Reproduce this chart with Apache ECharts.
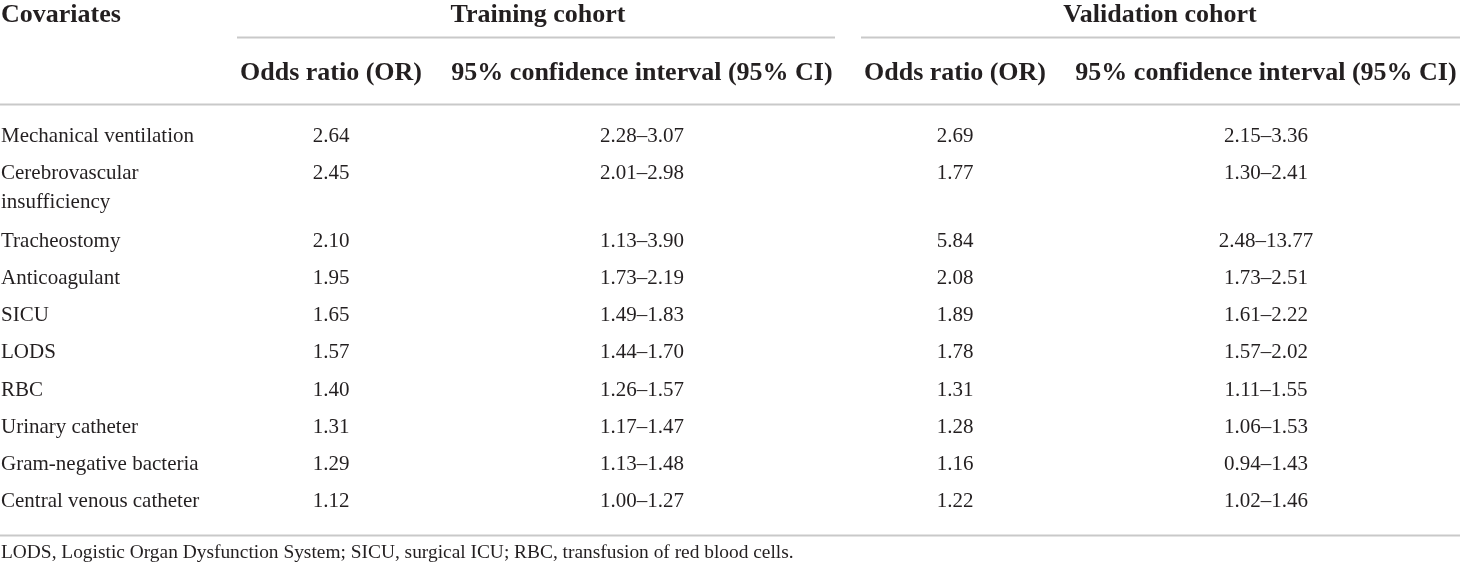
<!DOCTYPE html>
<html>
<head>
<meta charset="utf-8">
<script src="https://cdn.jsdelivr.net/npm/echarts@6/dist/echarts.min.js"></script>
<style>
html,body{margin:0;padding:0;background:#fff;}
#chart{width:1460px;height:569px;}
</style>
</head>
<body>
<div id="chart"></div>
<script>
// ---------- data ----------
const covariates = ['Mechanical ventilation', 'Cerebrovascular\ninsufficiency', 'Tracheostomy', 'Anticoagulant', 'SICU', 'LODS', 'RBC', 'Urinary catheter', 'Gram-negative bacteria', 'Central venous catheter'];
const trainOR = [2.64, 2.45, 2.10, 1.95, 1.65, 1.57, 1.40, 1.31, 1.29, 1.12];
const trainCILow = [2.28, 2.01, 1.13, 1.73, 1.49, 1.44, 1.26, 1.17, 1.13, 1.00];
const trainCIHigh = [3.07, 2.98, 3.90, 2.19, 1.83, 1.70, 1.57, 1.47, 1.48, 1.27];
const valOR = [2.69, 1.77, 5.84, 2.08, 1.89, 1.78, 1.31, 1.28, 1.16, 1.22];
const valCILow = [2.15, 1.30, 2.48, 1.73, 1.61, 1.57, 1.11, 1.06, 0.94, 1.02];
const valCIHigh = [3.36, 2.41, 13.77, 2.51, 2.22, 2.02, 1.55, 1.53, 1.43, 1.46];
const firstHeader = 'Covariates';
const groupHeaders = ['Training cohort', 'Validation cohort'];
const columnHeaders = ['Odds ratio (OR)', '95% confidence interval (95% CI)'];
const footnote = 'LODS, Logistic Organ Dysfunction System; SICU, surgical ICU; RBC, transfusion of red blood cells.';

// ---------- layout ----------
const W = 1460, H = 569;
const FONT = '"Liberation Serif", "Times New Roman", serif';
const TEXT_COLOR = '#231f20';
const RULE_COLOR = '#c9c9c9';
const layout = {
  labelX: 1,
  orX: [331, 955],
  ciX: [642, 1266],
  groupX: [538, 1160],
  headerY: 15.5,
  subHeaderY: 73,
  firstRowY: 136.5,
  rowPitch: 37.2,
  extraLine: 30.4,
  bodyLineH: 29,
  footY: 553,
  rules: [[237, 835, 37.5], [861, 1460, 37.5], [0, 1460, 104.5], [0, 1460, 535.5]]
};

const fmt = v => v.toFixed(2);
const ci = (lo, hi) => fmt(lo) + '\u2013' + fmt(hi);

// row centre positions (first line) built from number of lines in each label
const rowY = [];
let yc = layout.firstRowY;
covariates.forEach((c, i) => {
  rowY.push(yc);
  const lines = c.split('\n').length;
  yc += layout.rowPitch + (lines - 1) * layout.extraLine;
});

// text items: [x, y(center of first line), text, align, kind]
const texts = [];
texts.push([layout.labelX, layout.headerY, firstHeader, 'left', 'head']);
groupHeaders.forEach((g, k) => texts.push([layout.groupX[k], layout.headerY, g, 'center', 'head']));
[0, 1].forEach(k => {
  texts.push([layout.orX[k], layout.subHeaderY, columnHeaders[0], 'center', 'head']);
  texts.push([layout.ciX[k], layout.subHeaderY, columnHeaders[1], 'center', 'head']);
});
covariates.forEach((c, i) => {
  texts.push([layout.labelX, rowY[i], c, 'left', 'body']);
  texts.push([layout.orX[0], rowY[i], fmt(trainOR[i]), 'center', 'body']);
  texts.push([layout.ciX[0], rowY[i], ci(trainCILow[i], trainCIHigh[i]), 'center', 'body']);
  texts.push([layout.orX[1], rowY[i], fmt(valOR[i]), 'center', 'body']);
  texts.push([layout.ciX[1], rowY[i], ci(valCILow[i], valCIHigh[i]), 'center', 'body']);
});
texts.push([layout.labelX, layout.footY, footnote, 'left', 'foot']);

const styles = {
  head: {font: 'bold 26px ' + FONT, lh: 32},
  body: {font: '21px ' + FONT, lh: layout.bodyLineH},
  foot: {font: '19.4px ' + FONT, lh: 24}
};

const chart = echarts.init(document.getElementById('chart'), null, {renderer: 'canvas'});
chart.setOption({
  animation: false,
  backgroundColor: '#fff',
  grid: {left: 0, right: 0, top: 0, bottom: 0},
  xAxis: {type: 'value', min: 0, max: W, show: false},
  yAxis: {type: 'value', min: 0, max: H, inverse: true, show: false},
  series: [
    {
      type: 'custom',
      data: layout.rules,
      renderItem: function (params, api) {
        const p1 = api.coord([api.value(0), api.value(2)]);
        const p2 = api.coord([api.value(1), api.value(2)]);
        return {
          type: 'line',
          shape: {x1: p1[0], y1: p1[1], x2: p2[0], y2: p2[1]},
          style: {stroke: RULE_COLOR, lineWidth: 2}
        };
      }
    },
    {
      type: 'custom',
      data: texts.map((t, i) => [t[0], t[1], i]),
      renderItem: function (params, api) {
        const t = texts[params.dataIndex];
        const s = styles[t[4]];
        const p = api.coord([api.value(0), api.value(1)]);
        return {
          type: 'text',
          x: p[0],
          y: p[1] - s.lh / 2,
          style: {
            text: t[2],
            font: s.font,
            fill: TEXT_COLOR,
            align: t[3],
            verticalAlign: 'top',
            lineHeight: s.lh
          }
        };
      }
    }
  ]
});
</script>
</body>
</html>
